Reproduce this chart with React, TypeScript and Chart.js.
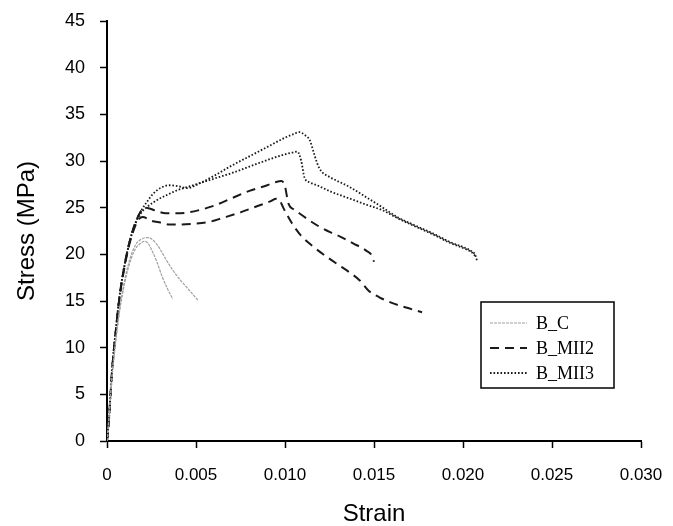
import React, { useEffect, useRef } from 'react';
import { Chart, registerables } from 'chart.js';

Chart.register(...registerables);

// ---------- data ----------
const xTickValues = [0, 0.005, 0.01, 0.015, 0.02, 0.025, 0.03];
const xTickLabels = ['0', '0.005', '0.010', '0.015', '0.020', '0.025', '0.030'];
const yTickValues = [0, 5, 10, 15, 20, 25, 30, 35, 40, 45];
const yTickLabels = ['0', '5', '10', '15', '20', '25', '30', '35', '40', '45'];

const seriesNames = ['B_C', 'B_MII2', 'B_MII3'];

// B_C specimen 1 (short)
const bc1Strain = [0, 0.0001, 0.0002, 0.0003, 0.0005, 0.0007, 0.001, 0.0013, 0.0016, 0.0019, 0.0021, 0.0023, 0.0025, 0.0028, 0.0031, 0.0034, 0.0037];
const bc1Stress = [0, 2.2, 4.8, 7.2, 10.8, 13.8, 17.0, 19.2, 20.6, 21.2, 21.4, 21.2, 20.5, 19.2, 17.6, 16.3, 15.2];
// B_C specimen 2 (long)
const bc2Strain = [0, 0.0001, 0.0002, 0.0003, 0.0005, 0.0007, 0.001, 0.0013, 0.0016, 0.0019, 0.0023, 0.0027, 0.0030, 0.0033, 0.0037, 0.0041, 0.0046, 0.0051];
const bc2Stress = [0, 2.3, 5.0, 7.4, 11.0, 14.0, 17.3, 19.6, 21.0, 21.6, 21.8, 21.3, 20.5, 19.5, 18.3, 17.3, 16.2, 15.1];

// B_MII2 specimen 1 (upper)
const m2aStrain = [0, 0.0001, 0.0002, 0.0003, 0.0005, 0.0007, 0.001, 0.0013, 0.0016, 0.0019, 0.0022, 0.0027, 0.0033, 0.0039, 0.0046, 0.0052, 0.006, 0.007, 0.008, 0.009, 0.0095, 0.0098, 0.0100, 0.0101, 0.0102, 0.0105, 0.0108, 0.0114, 0.0119, 0.0125, 0.0131, 0.0138, 0.01456, 0.0149, 0.0150];
const m2aStress = [0, 2.1, 5.0, 7.9, 11.9, 15.4, 19.0, 21.6, 23.4, 24.6, 25.0, 24.7, 24.4, 24.4, 24.5, 24.75, 25.2, 26.0, 26.8, 27.4, 27.75, 27.85, 27.3, 26.3, 25.4, 24.8, 24.4, 23.6, 23.0, 22.4, 21.9, 21.2, 20.4, 19.8, 19.2];
// B_MII2 specimen 2 (lower)
const m2bStrain = [0, 0.0001, 0.0002, 0.0003, 0.0005, 0.0007, 0.001, 0.0013, 0.0016, 0.0018, 0.002, 0.0025, 0.003, 0.0035, 0.004, 0.005, 0.0058, 0.0065, 0.0075, 0.0085, 0.0092, 0.0095, 0.0097, 0.0099, 0.0101, 0.0104, 0.0109, 0.0116, 0.0123, 0.0129, 0.0136, 0.0142, 0.0147, 0.0153, 0.016, 0.0168, 0.0177];
const m2bStress = [0, 2.0, 4.9, 7.8, 11.8, 15.3, 18.8, 21.4, 23.1, 23.8, 24.0, 23.6, 23.4, 23.2, 23.2, 23.3, 23.5, 23.9, 24.5, 25.2, 25.7, 25.95, 25.8, 25.0, 24.3, 23.3, 22.0, 20.8, 19.8, 19.0, 18.1, 17.2, 16.1, 15.4, 14.8, 14.3, 13.8];

// B_MII3 specimen 1 (upper)
const m3aStrain = [0, 0.0001, 0.0002, 0.0003, 0.0005, 0.0007, 0.001, 0.0013, 0.0016, 0.0019, 0.0022, 0.0026, 0.003, 0.0035, 0.004, 0.0045, 0.0052, 0.006, 0.007, 0.008, 0.009, 0.01, 0.0105, 0.0108, 0.0111, 0.0114, 0.0116, 0.0118, 0.012, 0.0125, 0.0136, 0.0145, 0.0155, 0.0163, 0.0173, 0.0183, 0.0193, 0.0201, 0.0205, 0.0207, 0.0208];
const m3aStress = [0, 2.1, 5.0, 8.0, 12.0, 15.5, 19.0, 21.6, 23.4, 24.6, 25.5, 26.5, 27.1, 27.4, 27.3, 27.1, 27.6, 28.4, 29.5, 30.5, 31.5, 32.5, 32.9, 33.1, 32.8, 32.2, 31.0, 29.8, 29.0, 28.3, 27.25, 26.2, 25.0, 24.0, 23.1, 22.25, 21.3, 20.7, 20.3, 19.9, 19.2];
// B_MII3 specimen 2 (lower)
const m3bStrain = [0, 0.0001, 0.0002, 0.0003, 0.0005, 0.0007, 0.001, 0.0013, 0.0016, 0.0019, 0.0022, 0.0028, 0.0033, 0.004, 0.005, 0.006, 0.007, 0.008, 0.009, 0.0098, 0.0104, 0.0107, 0.0109, 0.0111, 0.0114, 0.0118, 0.0126, 0.0136, 0.0146, 0.0155, 0.0163, 0.0173, 0.0183, 0.0193, 0.0201, 0.0205, 0.0207];
const m3bStress = [0, 2.0, 5.0, 7.9, 11.9, 15.4, 18.9, 21.5, 23.3, 24.4, 25.0, 25.8, 26.3, 26.9, 27.5, 28.1, 28.7, 29.4, 30.1, 30.6, 30.9, 31.0, 30.1, 28.2, 27.7, 27.4, 26.7, 26.0, 25.3, 24.7, 23.9, 23.0, 22.15, 21.2, 20.6, 20.2, 19.8];

// ---------- styles ----------
const gray = '#a0a0a0';
const dark = '#1a1a1a';
const styleC = { borderColor: gray, borderWidth: 1.2, borderDash: [3, 1] };
const styleM2 = { borderColor: dark, borderWidth: 2, borderDash: [9, 6] };
const styleM3 = { borderColor: dark, borderWidth: 1.8, borderDash: [1.6, 1.9] };

const pts = (xs: number[], ys: number[]) => xs.map((x, i) => ({ x, y: ys[i] }));

const legendPlugin = {
  id: 'boxLegend',
  afterDraw(chart: any) {
    const ctx = chart.ctx as CanvasRenderingContext2D;
    const bx = 481, by = 302, bw = 133, bh = 86;
    ctx.save();
    ctx.fillStyle = '#fff';
    ctx.fillRect(bx, by, bw, bh);
    ctx.strokeStyle = '#000';
    ctx.lineWidth = 1.5;
    ctx.strokeRect(bx, by, bw, bh);
    const styles = [styleC, styleM2, styleM3];
    const rows = [323, 348, 373];
    ctx.font = '18px "Liberation Serif", "Times New Roman", serif';
    ctx.textBaseline = 'middle';
    ctx.textAlign = 'left';
    seriesNames.forEach((name, i) => {
      const s = styles[i];
      ctx.beginPath();
      ctx.strokeStyle = s.borderColor;
      ctx.lineWidth = s.borderWidth;
      ctx.setLineDash(s.borderDash);
      ctx.moveTo(490, rows[i]);
      ctx.lineTo(527, rows[i]);
      ctx.stroke();
      ctx.setLineDash([]);
      ctx.fillStyle = '#000';
      ctx.fillText(name, 536, rows[i] + 1);
    });
    ctx.restore();
  },
};

export default function App() {
  const ref = useRef<HTMLCanvasElement | null>(null);
  useEffect(() => {
    document.body.style.margin = '0';
    if (!ref.current) return;
    Chart.defaults.font.family = '"Liberation Sans", Arial, sans-serif';
    Chart.defaults.color = '#000';
    const mk = (label: string, xs: number[], ys: number[], st: any) => ({
      label,
      data: pts(xs, ys),
      ...st,
      fill: false,
      pointRadius: 0,
      cubicInterpolationMode: 'monotone' as const,
    });
    const chart = new Chart(ref.current, {
      type: 'line',
      data: {
        datasets: [
          mk(seriesNames[0], bc1Strain, bc1Stress, styleC),
          mk(seriesNames[0], bc2Strain, bc2Stress, styleC),
          mk(seriesNames[1], m2aStrain, m2aStress, styleM2),
          mk(seriesNames[1], m2bStrain, m2bStress, styleM2),
          mk(seriesNames[2], m3aStrain, m3aStress, styleM3),
          mk(seriesNames[2], m3bStrain, m3bStress, styleM3),
        ],
      },
      options: {
        animation: false,
        responsive: false,
        layout: { padding: { left: 0, top: 21, right: 32, bottom: 0 } },
        plugins: { legend: { display: false }, tooltip: { enabled: false } },
        scales: {
          x: {
            type: 'linear',
            min: 0,
            max: 0.03,
            afterFit: (s: any) => { s.height = 85; s.paddingLeft = 0; s.paddingRight = 0; },
            afterBuildTicks: (s: any) => { s.ticks = xTickValues.map((v) => ({ value: v })); },
            ticks: {
              callback: (_v: any, i: number) => xTickLabels[i],
              font: { size: 17 },
              padding: 17,
              maxRotation: 0,
              color: '#000',
            },
            grid: { drawOnChartArea: false, drawTicks: true, tickLength: 7, tickColor: '#000', tickWidth: 1.5 },
            border: { display: true, color: '#000', width: 2 },
            title: {
              display: true,
              text: 'Strain',
              font: { size: 24, lineHeight: 1 },
              padding: { top: 0, bottom: 0 },
              color: '#000',
            },
          },
          y: {
            type: 'linear',
            min: 0,
            max: 45,
            afterFit: (s: any) => { s.width = 107; s.paddingTop = 0; s.paddingBottom = 0; },
            afterBuildTicks: (s: any) => { s.ticks = yTickValues.map((v) => ({ value: v })); },
            ticks: {
              callback: (_v: any, i: number) => yTickLabels[i],
              font: { size: 18 },
              padding: 15,
              color: '#000',
            },
            grid: { drawOnChartArea: false, drawTicks: true, tickLength: 7, tickColor: '#000', tickWidth: 1.5 },
            border: { display: true, color: '#000', width: 2 },
            title: {
              display: true,
              text: 'Stress (MPa)',
              font: { size: 24, lineHeight: 1 },
              padding: { top: 15.5, bottom: 0 },
              color: '#000',
            },
          },
        },
      },
      plugins: [legendPlugin],
    });
    return () => chart.destroy();
  }, []);
  return (
    <div style={{ width: 673, height: 526, background: '#fff' }}>
      <canvas ref={ref} width={673} height={526} style={{ display: 'block' }} />
    </div>
  );
}
